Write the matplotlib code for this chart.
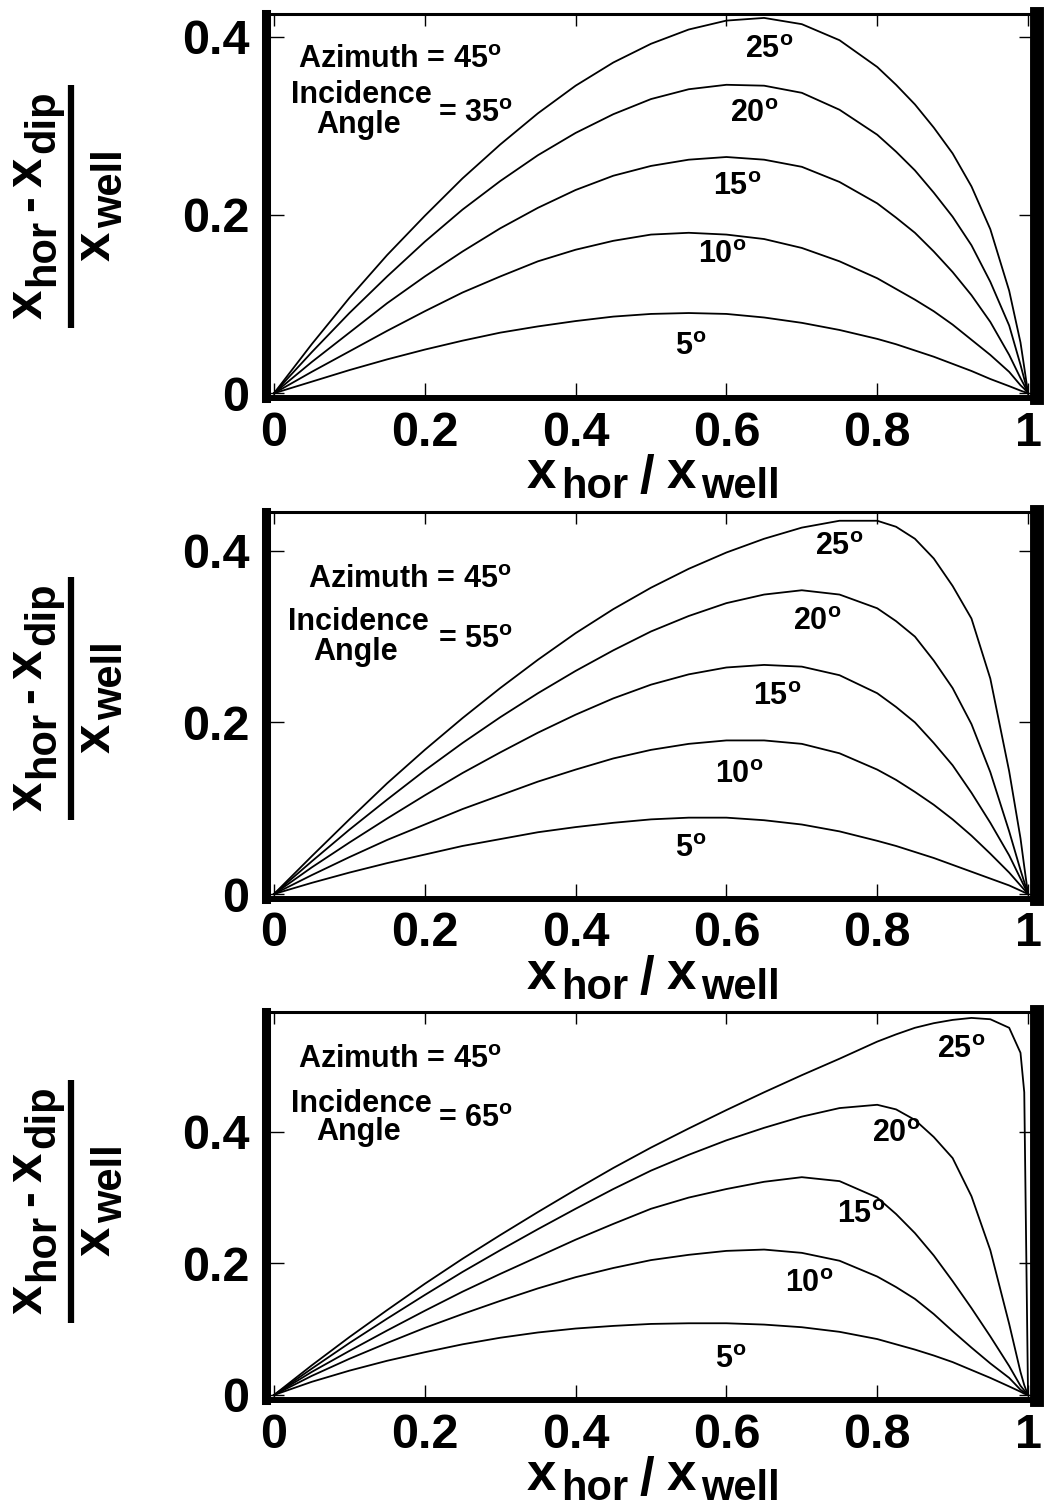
import matplotlib
matplotlib.use('Agg')
import matplotlib.pyplot as plt
from matplotlib.lines import Line2D

plt.rcParams['font.family'] = 'Liberation Sans'
plt.rcParams['font.weight'] = 'bold'
plt.rcParams['mathtext.fontset'] = 'custom'
plt.rcParams['mathtext.bf'] = 'Liberation Sans:bold'
plt.rcParams['mathtext.rm'] = 'Liberation Sans:bold'
plt.rcParams['mathtext.it'] = 'Liberation Sans:bold'
plt.rcParams['mathtext.default'] = 'bf'

# x_hor / x_well sample points
x_ratio = [0, .05, .1, .15, .2, .25, .3, .35, .4, .45, .5, .55, .6, .65, .7,
           .75, .8, .825, .85, .875, .9, .925, .95, .975, .99, .995, 1.0]

dip_angles = [5, 10, 15, 20, 25]
incidence = [35, 55, 65]
azimuth = 45

# (x_hor - x_dip) / x_well, one row per dip angle
offset_inc35 = [
    [0, .013, .026, .038, .049, .059, .068, .075, .081, .086, .089, .090, .089,
     .085, .079, .071, .061, .055, .048, .041, .033, .025, .016, .008, .003,
     .0015, 0],
    [0, .024, .047, .070, .092, .113, .131, .148, .161, .171, .178, .180, .178,
     .173, .163, .148, .129, .117, .105, .092, .077, .060, .043, .024, .009,
     .005, 0],
    [0, .035, .068, .101, .131, .159, .185, .208, .228, .244, .255, .262, .265,
     .262, .254, .237, .213, .197, .180, .159, .136, .110, .080, .043, .017,
     .009, 0],
    [0, .046, .090, .131, .170, .206, .238, .267, .292, .313, .330, .341, .346,
     .345, .337, .318, .290, .271, .250, .225, .198, .166, .125, .076, .032,
     .016, 0],
    [0, .055, .107, .155, .199, .241, .279, .314, .345, .371, .392, .408, .418,
     .421, .414, .396, .366, .346, .324, .298, .269, .232, .184, .115, .057,
     .029, 0],
]
offset_inc55 = [
    [0, .013, .025, .036, .046, .056, .064, .072, .078, .083, .087, .089, .089,
     .086, .081, .073, .062, .056, .049, .042, .034, .026, .018, .010, .004,
     .002, 0],
    [0, .022, .043, .063, .081, .099, .115, .131, .145, .158, .168, .175, .179,
     .179, .175, .164, .145, .133, .119, .104, .087, .068, .047, .025, .010,
     .005, 0],
    [0, .031, .060, .088, .115, .141, .165, .188, .209, .228, .244, .256, .264,
     .267, .265, .255, .234, .218, .200, .176, .150, .118, .083, .045, .018,
     .009, 0],
    [0, .038, .075, .110, .144, .176, .206, .234, .260, .284, .306, .324, .339,
     .349, .354, .349, .333, .318, .300, .272, .240, .198, .142, .073, .028,
     .014, 0],
    [0, .044, .087, .129, .168, .205, .240, .273, .304, .332, .357, .379, .398,
     .414, .427, .435, .435, .428, .414, .391, .359, .321, .251, .143, .065,
     .032, 0],
]
offset_inc65 = [
    [0, .020, .037, .052, .065, .077, .087, .095, .101, .105, .108, .109, .109,
     .107, .103, .096, .085, .077, .069, .060, .050, .038, .026, .013, .005,
     .002, 0],
    [0, .029, .055, .079, .102, .123, .143, .162, .179, .193, .205, .213, .219,
     .221, .216, .204, .180, .164, .146, .123, .097, .072, .048, .026, .008,
     .004, 0],
    [0, .035, .067, .098, .128, .157, .184, .210, .236, .260, .283, .300, .313,
     .324, .331, .325, .300, .275, .246, .212, .173, .132, .089, .044, .014,
     .007, 0],
    [0, .040, .079, .116, .152, .187, .220, .252, .283, .313, .341, .365, .387,
     .406, .423, .436, .441, .434, .418, .392, .360, .302, .220, .108, .035,
     .015, 0],
    [0, .045, .088, .129, .169, .207, .243, .278, .312, .345, .376, .405, .433,
     .460, .486, .511, .537, .548, .558, .565, .570, .573, .571, .558, .520,
     .460, 0],
]
panels = [offset_inc35, offset_inc55, offset_inc65]

x_ticks = [0, .2, .4, .6, .8, 1]
x_tick_labels = ['0', '0.2', '0.4', '0.6', '0.8', '1']
y_ticks = [0, .2, .4]
y_tick_labels = ['0', '0.2', '0.4']

W, H = 1044, 1509


def fx(px):
    return px / W


def fy(py):
    return 1 - py / H


def text_runs(fig, px, py, runs, vertical=False):
    """Lay out (text, size, drop, gap) pieces along a baseline, centred on
    px (horizontal) or py (vertical, reading bottom to top)."""
    renderer = fig.canvas.get_renderer()
    items = []
    total = 0
    for s, size, drop, gap in runs:
        t = fig.text(0, 0, s, fontsize=size, rotation=90 if vertical else 0,
                     rotation_mode='anchor', ha='left', va='baseline')
        bb = t.get_window_extent(renderer)
        adv = bb.height if vertical else bb.width
        items.append((t, drop, adv, gap))
        total += adv + gap
    total -= runs[-1][3]
    pos = py + total / 2 if vertical else px - total / 2
    for t, drop, adv, gap in items:
        if vertical:
            t.set_position((fx(px + drop), fy(pos)))
            pos -= adv + gap
        else:
            t.set_position((fx(pos), fy(py + drop)))
            pos += adv + gap


# panel frames in pixels (top, bottom) and y limits
panel_top = [14, 512, 1012]
panel_bottom = [398, 899, 1400]
ylims = [(-0.0053, 0.4254), (-0.0058, 0.4452), (-0.0076, 0.582)]
label_cy = [205, 697, 1200]

# text anchors: azimuth line, incidence block, curve labels
azi_pos = [(298, 68), (308, 588), (298, 1068)]
inc_cx = [361, 358, 361]
inc_base = [(103, 133, 122), (630, 660, 648), (1112, 1140, 1127)]
curve_lab = [
    [(675, 355), (698, 263), (713, 195), (730, 122), (745, 58)],
    [(675, 857), (715, 783), (753, 705), (793, 630), (815, 555)],
    [(715, 1368), (785, 1292), (837, 1223), (872, 1142), (937, 1058)],
]

num_runs = [('x', 38, 0, 4), ('hor', 30, 12, 8), ('-', 34, 0, 8),
            ('x', 38, 0, 4), ('dip', 30, 12, 0)]
den_runs = [('x', 38, 0, 4), ('well', 30, 12, 0)]
xlab_runs = [('x', 38, 0, 5), ('hor', 30, 10, 12), ('/', 38, 5, 12),
             ('x', 38, 0, 5), ('well', 30, 10, 0)]

fig = plt.figure(figsize=(W / 100, H / 100), dpi=100)

for i, curves in enumerate(panels):
    top, bot = panel_top[i], panel_bottom[i]
    ax = fig.add_axes([fx(266), fy(bot), (1037 - 266) / W, (bot - top) / H])
    for yv in curves:
        ax.plot(x_ratio, yv, color='k', lw=1.3, solid_joinstyle='round')
    ax.set_xlim(-0.0106, 1.0119)
    ax.set_ylim(*ylims[i])

    ax.spines['left'].set_linewidth(6.5)
    ax.spines['right'].set_linewidth(10)
    ax.spines['bottom'].set_linewidth(4.3)
    ax.spines['top'].set_linewidth(2.2)

    ax.set_xticks(x_ticks)
    ax.set_xticklabels(x_tick_labels)
    ax.set_yticks(y_ticks)
    ax.set_yticklabels(y_tick_labels)
    ax.tick_params(axis='x', direction='in', length=11, width=1, top=True,
                   labelsize=35, pad=9)
    ax.tick_params(axis='y', direction='in', length=13, width=1, right=True,
                   labelsize=35, pad=12)
    for t in ax.xaxis.get_major_ticks():
        t.tick2line.set_markersize(8.5)

    # y label as a stacked fraction
    cy = label_cy[i]
    text_runs(fig, 42, cy, num_runs, vertical=True)
    text_runs(fig, 110, cy, den_runs, vertical=True)
    fig.add_artist(Line2D([fx(71), fx(71)], [fy(cy - 120), fy(cy + 123)],
                          color='k', lw=4.5, solid_capstyle='butt'))

    # x label
    text_runs(fig, 653, bot + 90, xlab_runs)

    # geometry annotation
    ax_x, ax_y = azi_pos[i]
    fig.text(fx(ax_x), fy(ax_y), 'Azimuth = %d$^{o}$' % azimuth,
             fontsize=22, ha='left', va='baseline')
    b1, b2, b3 = inc_base[i]
    fig.text(fx(inc_cx[i]), fy(b1), 'Incidence', fontsize=22,
             ha='center', va='baseline')
    fig.text(fx(inc_cx[i] - 2), fy(b2), 'Angle', fontsize=22,
             ha='center', va='baseline')
    fig.text(fx(438), fy(b3), '= %d$^{o}$' % incidence[i], fontsize=22,
             ha='left', va='baseline')

    for dip, (lx, ly) in zip(dip_angles, curve_lab[i]):
        fig.text(fx(lx), fy(ly), '%d$^{o}$' % dip, fontsize=22,
                 ha='left', va='baseline')

fig.savefig('out.png', dpi=100)
